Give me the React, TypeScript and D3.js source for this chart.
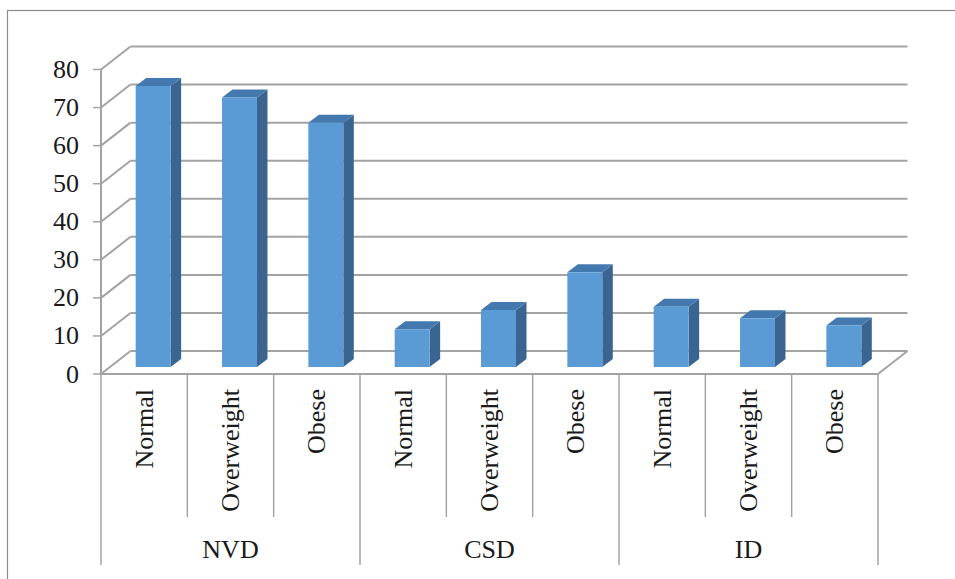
import React from "react";
import * as d3 from "d3";

const groups = ["NVD", "CSD", "ID"];
const subCategories = ["Normal", "Overweight", "Obese"];
const values = [73.8, 70.8, 64.2, 9.9, 15.0, 24.9, 15.8, 12.8, 10.9];
const yTicks = [0, 10, 20, 30, 40, 50, 60, 70, 80];

const W = 955;
const H = 579;
const X0 = 101;
const X1 = 878;
const Y0 = 374;
const Y80 = 69.5;
const WALL_DX = 29.5;
const WALL_DY = 23;
const BAR_SHIFT_DX = 9;
const BAR_SHIFT_DY = 7;
const BAR_DX = 10.5;
const BAR_DY = 8;
const FONT = "'Liberation Serif', 'Times New Roman', serif";
const GRID = "#a3a3a3";

export default function App() {
  const cats = groups.flatMap((g) => subCategories.map((s) => `${g}|${s}`));
  const x = d3.scaleBand<string>().domain(cats).range([X0, X1]).paddingInner(0.595).paddingOuter(0.2975);
  const xCat = d3.scaleBand<string>().domain(cats).range([X0, X1]);
  const xGroup = d3.scaleBand<string>().domain(groups).range([X0, X1]);
  const y = d3.scaleLinear().domain([0, 80]).range([Y0, Y80]);

  const bars = values.map((v, i) => {
    const c = cats[i];
    const bx = (x(c) as number) + BAR_SHIFT_DX;
    const bw = x.bandwidth();
    const yb = y(0) - BAR_SHIFT_DY;
    const yt = y(v) - BAR_SHIFT_DY;
    const front = `M${bx},${yt}L${bx + bw},${yt}L${bx + bw},${yb}L${bx},${yb}Z`;
    const side = `M${bx + bw},${yt}L${bx + bw + BAR_DX},${yt - BAR_DY}L${bx + bw + BAR_DX},${yb - BAR_DY}L${bx + bw},${yb}Z`;
    const top = `M${bx},${yt}L${bx + BAR_DX},${yt - BAR_DY}L${bx + bw + BAR_DX},${yt - BAR_DY}L${bx + bw},${yt}Z`;
    return (
      <g key={c}>
        <path d={side} fill="#3a6590" />
        <path d={top} fill="#4479b0" />
        <path d={front} fill="#5b9bd5" />
      </g>
    );
  });

  return (
    <svg width={W} height={H} style={{ position: "absolute", left: 0, top: 0 }}>
      <rect x={0} y={0} width={W} height={H} fill="#fff" />
      <rect x={7.5} y={10.5} width={W + 20} height={H + 20} fill="none" stroke="#8c8c8c" strokeWidth={1.2} />
      {/* back wall gridlines and side wall diagonals */}
      {yTicks.map((t) => (
        <g key={t}>
          <line x1={X0} y1={y(t)} x2={X0 + WALL_DX} y2={y(t) - WALL_DY} stroke={GRID} strokeWidth={2} />
          <line x1={X0 + WALL_DX} y1={y(t) - WALL_DY} x2={X1 + WALL_DX} y2={y(t) - WALL_DY} stroke={GRID} strokeWidth={2} />
          <line x1={X0 - 8} y1={y(t)} x2={X0} y2={y(t)} stroke={GRID} strokeWidth={1.5} />
          <text x={79} y={y(t)} textAnchor="end" dominantBaseline="central" fontFamily={FONT} fontSize={26} fill="#1a1a1a">
            {t}
          </text>
        </g>
      ))}
      {/* floor */}
      <line x1={X1} y1={Y0} x2={X1 + WALL_DX} y2={Y0 - WALL_DY} stroke={GRID} strokeWidth={2} />
      <line x1={X0} y1={Y0} x2={X1} y2={Y0} stroke={GRID} strokeWidth={2} />
      <line x1={X0} y1={Y80} x2={X0} y2={Y0} stroke={GRID} strokeWidth={2} />
      {bars}
      {/* category dividers */}
      {cats.map((c, i) => {
        const xl = xCat(c) as number;
        const isGroupEdge = i % subCategories.length === 0;
        return <line key={c} x1={xl} y1={Y0} x2={xl} y2={isGroupEdge ? 565 : 517} stroke={GRID} strokeWidth={1.5} />;
      })}
      <line x1={X1} y1={Y0} x2={X1} y2={565} stroke={GRID} strokeWidth={1.5} />
      {/* sub-category labels */}
      {cats.map((c) => {
        const cx = (xCat(c) as number) + xCat.bandwidth() / 2;
        const label = c.split("|")[1];
        return (
          <text
            key={c}
            transform={`translate(${cx},389) rotate(-90)`}
            textAnchor="end"
            dominantBaseline="central"
            fontFamily={FONT}
            fontSize={26}
            fill="#1a1a1a"
          >
            {label}
          </text>
        );
      })}
      {/* group labels */}
      {groups.map((g) => (
        <text
          key={g}
          x={(xGroup(g) as number) + xGroup.bandwidth() / 2}
          y={558}
          textAnchor="middle"
          fontFamily={FONT}
          fontSize={26}
          fill="#1a1a1a"
        >
          {g}
        </text>
      ))}
    </svg>
  );
}
